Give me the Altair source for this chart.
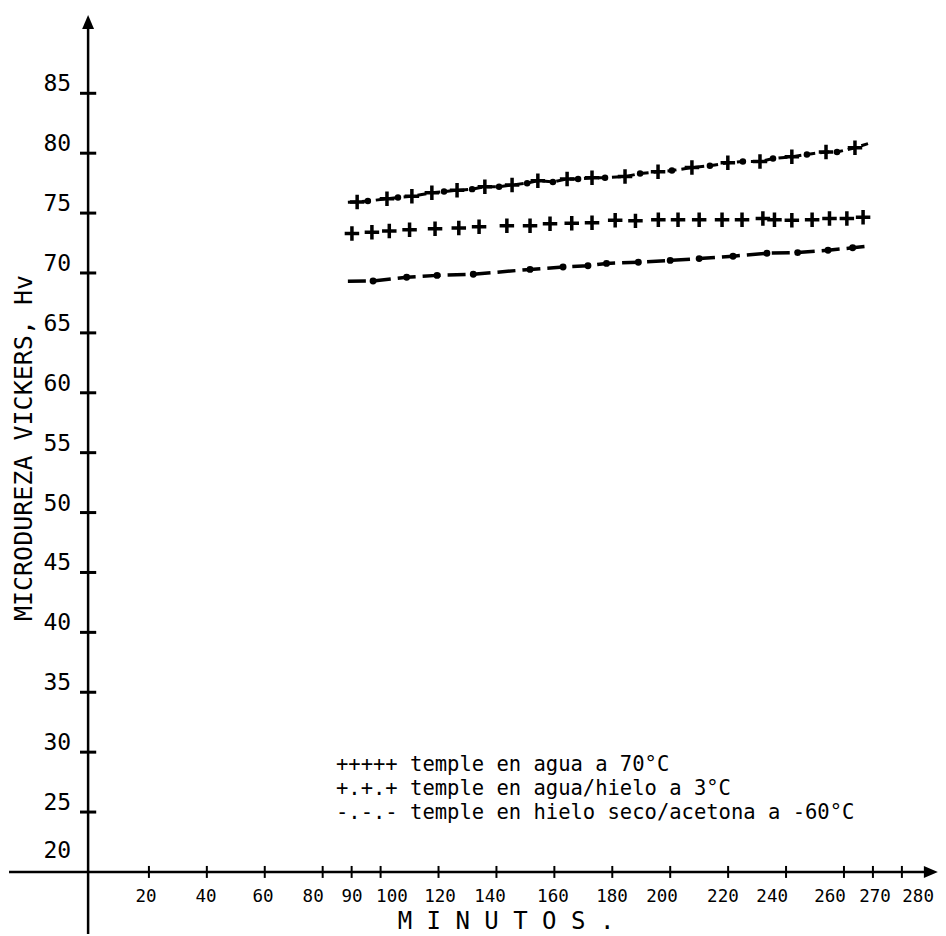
import altair as alt
import pandas as pd

# ---------------- data ----------------
x_ticks = [20, 40, 60, 80, 90, 100, 120, 140, 160, 180, 200, 220, 240, 260, 270, 280]
# where each typed tick label sits along the axis (minutes)
x_label_at = [19.0, 39.7, 59.4, 76.7, 90.1, 103.9, 120.5, 137.8, 159.5, 179.9, 197.2,
              218.2, 235.2, 255.2, 270.7, 285.6]
y_ticks = [25, 30, 35, 40, 45, 50, 55, 60, 65, 70, 75, 80, 85]

# +++++ temple en agua a 70°C (crosses only)
agua70_x = [90.1, 97.0, 103.0, 110.0, 118.8, 127.0, 134.0, 143.6, 151.6, 158.5, 166.0, 173.0, 181.0,
            188.0, 195.9, 202.7, 210.0, 217.9, 224.8, 232.0, 236.0, 242.0, 249.0, 255.0, 261.0, 266.6]
agua70_y = [73.3, 73.4, 73.5, 73.6, 73.7, 73.75, 73.85, 73.95, 73.95, 74.1, 74.15, 74.2, 74.4,
            74.35, 74.45, 74.45, 74.45, 74.45, 74.45, 74.55, 74.45, 74.4, 74.45, 74.55, 74.55, 74.65]

# +.+.+ temple en agua/hielo a 3°C (crosses and dots on a dashed line)
hielo3_cross_x = [91.9, 102.2, 110.8, 117.7, 126.4, 136.0, 145.4, 154.3, 164.4, 173.0, 184.4,
                  195.8, 207.5, 219.9, 231.0, 242.0, 253.8, 263.8]
hielo3_cross_y = [75.93, 76.2, 76.4, 76.7, 76.9, 77.2, 77.35, 77.7, 77.85, 77.95, 78.05,
                  78.45, 78.8, 79.2, 79.3, 79.7, 80.1, 80.45]
hielo3_dot_x = [95.6, 106.0, 121.9, 131.6, 140.9, 150.6, 159.5, 168.2, 177.5, 189.6, 200.6,
                213.7, 225.1, 235.5, 247.2, 257.6]
hielo3_dot_y = [76.0, 76.3, 76.8, 77.0, 77.2, 77.5, 77.6, 77.85, 77.95, 78.3, 78.55,
                78.95, 79.3, 79.55, 79.9, 80.1]
hielo3_ends_x = [88.7, 268.3]
hielo3_ends_y = [75.9, 80.8]

# -.-.- temple en hielo seco/acetona a -60°C (dash-dot line)
seco_x = [88.7, 97.4, 109.0, 119.5, 132.0, 151.6, 163.0, 171.6, 178.0, 189.0, 200.0,
          210.0, 221.7, 233.4, 244.0, 254.5, 263.0, 269.0]
seco_y = [69.3, 69.33, 69.65, 69.8, 69.9, 70.3, 70.5, 70.6, 70.8, 70.9, 71.05,
          71.2, 71.4, 71.65, 71.7, 71.9, 72.1, 72.25]

legend_lines = [
    "+++++ temple en agua a 70°C",
    "+.+.+ temple en agua/hielo a 3°C",
    "-.-.- temple en hielo seco/acetona a -60°C",
]
y_title = "MICRODUREZA VICKERS, Hv"
x_title = "M I N U T O S ."

# ---------------- chart ----------------
W, H = 930, 926
FONT = "DejaVu Sans Mono"
xs = alt.Scale(domain=[-28.66, 292.47], nice=False, zero=False)
ys = alt.Scale(domain=[14.82, 92.12], nice=False, zero=False)


def fx(f):
    return alt.X(f, type="quantitative", scale=xs, axis=None)


def fy(f):
    return alt.Y(f, type="quantitative", scale=ys, axis=None)


def dx_(v):
    return alt.X(datum=v, type="quantitative", scale=xs, axis=None)


def dy_(v):
    return alt.Y(datum=v, type="quantitative", scale=ys, axis=None)


one = pd.DataFrame({"k": [0]})
xt = pd.DataFrame({"v": x_ticks, "at": x_label_at, "lab": [str(t) for t in x_ticks]})
yt = pd.DataFrame({"v": y_ticks, "lab": [str(t) for t in y_ticks]})

cross = "M-1,0L1,0M0,-1L0,1"

x_axis = alt.Chart(one).mark_rule(color="black", strokeWidth=2.5).encode(
    x=dx_(-28.3), x2=alt.X2(datum=288), y=dy_(20))
y_axis = alt.Chart(one).mark_rule(color="black", strokeWidth=2.5).encode(
    x=dx_(-1), y=dy_(14.82), y2=alt.Y2(datum=90.5))
up_arrow = alt.Chart(one).mark_point(shape="M0,-1L0.85,1L-0.85,1Z", filled=True, color="black",
                                     size=196, opacity=1).encode(x=dx_(-1), y=dy_(90.95))
right_arrow = alt.Chart(one).mark_point(shape="M1,0L-1,-0.85L-1,0.85Z", filled=True, color="black",
                                        size=196, opacity=1).encode(x=dx_(290.0), y=dy_(20))

y_tick_marks = alt.Chart(yt).mark_rule(color="black", strokeWidth=3).encode(
    x=dx_(-3.8), x2=alt.X2(datum=1.8), y=fy("v"))
x_tick_marks = alt.Chart(xt).mark_rule(color="black", strokeWidth=2).encode(
    x=fx("v"), y=dy_(19.5), y2=alt.Y2(datum=20.5))

y_labels = alt.Chart(yt).mark_text(align="right", baseline="middle", dx=-17, dy=-9,
                                   font=FONT, fontSize=23, color="black").encode(
    x=dx_(-1), y=fy("v"), text="lab:N")
y_label_20 = alt.Chart(one).mark_text(align="right", baseline="middle", dx=-17, dy=-21,
                                      font=FONT, fontSize=23, color="black", text="20").encode(
    x=dx_(-1), y=dy_(20))
x_labels = alt.Chart(xt).mark_text(align="center", baseline="middle", dy=25,
                                   font=FONT, fontSize=17.5, color="black").encode(
    x=fx("at"), y=dy_(20), text="lab:N")

# series
a70 = pd.DataFrame({"x": agua70_x, "y": agua70_y})
h3c = pd.DataFrame({"x": hielo3_cross_x, "y": hielo3_cross_y})
h3d = pd.DataFrame({"x": hielo3_dot_x, "y": hielo3_dot_y})
h3l = pd.DataFrame({"x": hielo3_cross_x + hielo3_dot_x + hielo3_ends_x,
                    "y": hielo3_cross_y + hielo3_dot_y + hielo3_ends_y})
sc = pd.DataFrame({"x": seco_x, "y": seco_y})

a70_pts = alt.Chart(a70).mark_point(shape=cross, filled=False, color="black", strokeWidth=3.5,
                                    size=210, opacity=1).encode(x=fx("x"), y=fy("y"))
h3_line = alt.Chart(h3l).mark_line(color="black", strokeWidth=3, strokeDash=[9, 5]).encode(
    x=fx("x"), y=fy("y"), order="x:Q")
h3_cross = alt.Chart(h3c).mark_point(shape=cross, filled=False, color="black", strokeWidth=3.5,
                                     size=210, opacity=1).encode(x=fx("x"), y=fy("y"))
h3_dots = alt.Chart(h3d).mark_circle(color="black", size=42, opacity=1).encode(x=fx("x"), y=fy("y"))
sc_line = alt.Chart(sc).mark_line(color="black", strokeWidth=3.5, strokeDash=[18, 7]).encode(
    x=fx("x"), y=fy("y"), order="x:Q")
sc_dots = alt.Chart(sc.iloc[1:-1]).mark_circle(color="black", size=48, opacity=1).encode(
    x=fx("x"), y=fy("y"))

# titles and legend text
ytitle = alt.Chart(one).mark_text(text=y_title, angle=270, align="center", baseline="middle",
                                  font=FONT, fontSize=25, color="black").encode(
    x=alt.value(16), y=alt.value(440))
xtitle = alt.Chart(one).mark_text(text=x_title, align="center", baseline="middle",
                                  font=FONT, fontSize=24, color="black").encode(
    x=alt.value(498), y=alt.value(914))
legend = alt.Chart(one).mark_text(text=legend_lines, align="left", baseline="top", lineHeight=24,
                                  font=FONT, fontSize=20.5, color="black").encode(
    x=alt.value(328), y=alt.value(747))

chart = alt.layer(
    x_axis, y_axis, up_arrow, right_arrow, y_tick_marks, x_tick_marks,
    y_labels, y_label_20, x_labels,
    h3_line, h3_cross, h3_dots, a70_pts, sc_line, sc_dots,
    ytitle, xtitle, legend,
).properties(
    width=W, height=H, autosize=alt.AutoSizeParams(type="none"), padding=0,
).configure_view(strokeWidth=0, stroke="transparent")

chart.save("out.html", embed_options={"renderer": "svg", "actions": False})
